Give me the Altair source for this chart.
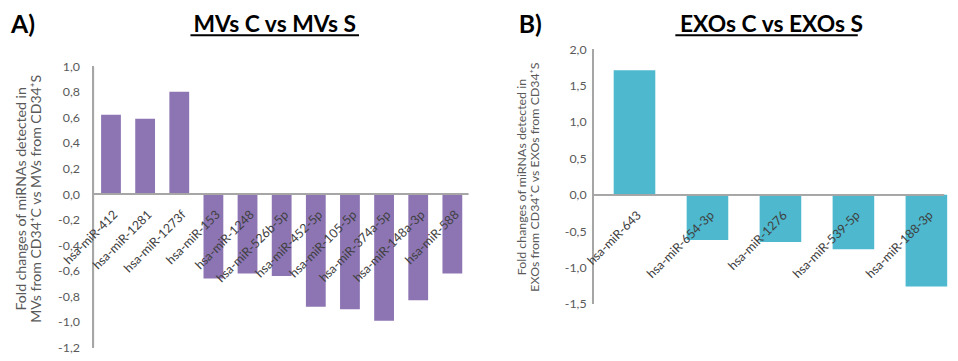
import altair as alt
import pandas as pd

# ---- data ----
mv_labels = ["hsa-miR-412", "hsa-miR-1281", "hsa-miR-1273f", "hsa-miR-153", "hsa-miR-1248",
             "hsa-miR-526b-5p", "hsa-miR-452-5p", "hsa-miR-105-5p", "hsa-miR-374a-5p",
             "hsa-miR-148a-3p", "hsa-miR-588"]
mv_values = [0.62, 0.59, 0.80, -0.66, -0.62, -0.64, -0.88, -0.90, -0.99, -0.83, -0.62]

exo_labels = ["hsa-miR-643", "hsa-miR-654-3p", "hsa-miR-1276", "hsa-miR-539-5p", "hsa-miR-188-3p"]
exo_values = [1.71, -0.62, -0.65, -0.75, -1.26]

mv_ticks = [-1.2, -1.0, -0.8, -0.6, -0.4, -0.2, 0.0, 0.2, 0.4, 0.6, 0.8, 1.0]
exo_ticks = [-1.5, -1.0, -0.5, 0.0, 0.5, 1.0, 1.5, 2.0]

FONT = "Lato"
TXT = "#595959"
AXC = "#A6A6A6"
MINUS = "\u2212"
LABEL_EXPR = "replace(replace(format(datum.value, '.1f'), '.', ','), '" + MINUS + "', '-')"


def panel(labels, values, color, ticks, domain, width, height, x_shift, pad_in, pad_out,
          ytitle, ytitle_size, ytitle_pad, letter, title, letter_x, title_x, ul_x1, ul_x2,
          lab_pad):
    df = pd.DataFrame({"mirna": labels, "fc": values})
    base = alt.Chart(df)
    x = alt.X("mirna:N", sort=labels, axis=None,
              scale=alt.Scale(paddingInner=pad_in, paddingOuter=pad_out))
    yscale = alt.Scale(domain=domain, nice=False, zero=False)
    ax = alt.Axis(values=ticks, labelExpr=LABEL_EXPR, grid=False, ticks=False,
                  domain=False, labelPadding=lab_pad, labelFont=FONT,
                  labelOverlap=False, labelFlush=False,
                  labelFontSize=12.5, labelColor=TXT, title=ytitle,
                  titleFont=FONT, titleFontSize=ytitle_size,
                  titleFontWeight="normal", titleColor=TXT,
                  titlePadding=ytitle_pad, titleLineHeight=ytitle_size + 1)
    bars = base.mark_bar(color=color, xOffset=x_shift).encode(
        x=x, y=alt.Y("fc:Q", scale=yscale, axis=ax))
    vline = base.mark_rule(color=AXC, strokeWidth=1.5).encode(
        x=alt.value(0), y=alt.YDatum(ticks[-1], axis=ax), y2=alt.datum(ticks[0]))
    zline = base.mark_rule(color=AXC, strokeWidth=1.5).encode(
        x=alt.value(0), x2=alt.value(width), y=alt.YDatum(0.0, axis=ax))
    texts = base.mark_text(angle=315, align="right", baseline="middle", dx=-10, dy=16.5,
                           xOffset=x_shift, font=FONT, fontSize=12.5,
                           color="#404040").encode(
        x=x, y=alt.YDatum(0.0, axis=ax), text="mirna:N")
    tdf = pd.DataFrame({"t": [title], "l": [letter]})
    tchart = alt.Chart(tdf)
    ttl = tchart.mark_text(align="center", baseline="alphabetic", font=FONT, fontSize=23,
                           fontWeight="bold", color="black").encode(
        x=alt.value(title_x), y=alt.value(-17), text="t:N")
    ul = tchart.mark_rule(color="black", strokeWidth=2).encode(
        x=alt.value(ul_x1), x2=alt.value(ul_x2), y=alt.value(-14))
    let = tchart.mark_text(align="left", baseline="alphabetic", font=FONT, fontSize=25,
                           fontWeight="bold", color="black").encode(
        x=alt.value(letter_x), y=alt.value(-16), text="l:N")
    return alt.layer(bars, zline, vline, texts, ttl, ul, let).properties(width=width, height=height)


pA = panel(mv_labels, mv_values, "#8D75B3", mv_ticks, [-1.2, 1.134], 378, 301, 1,
           0.42, 0.2,
           ["Fold changes of miRNAs detected in", "MVs  from CD34\u207aC vs MVs from CD34\u207aS"],
           14.2, 14, "A)", "MVs C vs MVs S", -83, 183, 98, 268, 14)
pB = panel(exo_labels, exo_values, "#4DB8CE", exo_ticks, [-1.5, 2.0], 354, 257, 12,
           0.43, 0.12,
           ["Fold changes of miRNAs detected in", "EXOs from CD34\u207aC vs EXOs from CD34\u207aS"],
           12.5, 23, "B)", "EXOs C vs EXOs S", -75, 180, 83, 267, 7)

chart = alt.hconcat(pA, pB, spacing=46).properties(
    padding={"left": 3, "top": 4, "right": 2, "bottom": 0}
).configure_view(stroke=None).configure_axis(labelOverlap=False)

chart.save("out.html", embed_options={"renderer": "svg", "actions": False})
